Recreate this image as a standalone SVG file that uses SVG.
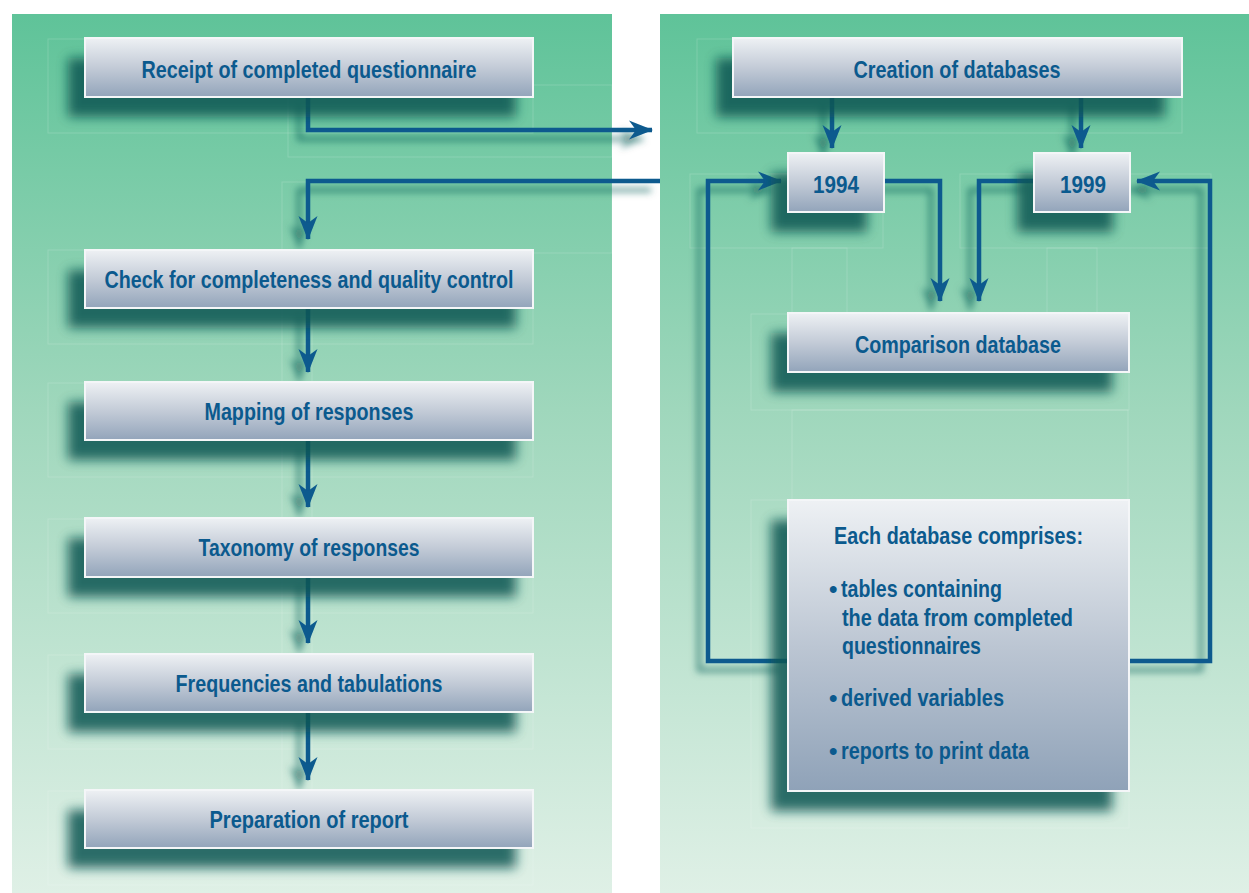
<svg xmlns="http://www.w3.org/2000/svg" width="1249" height="893" viewBox="0 0 1249 893">
  <defs>
    <linearGradient id="bg" x1="0" y1="0" x2="0" y2="1">
      <stop offset="0" stop-color="#5fc399"/>
      <stop offset="0.45" stop-color="#9fd7bc"/>
      <stop offset="1" stop-color="#dff0e6"/>
    </linearGradient>
    <linearGradient id="boxfill" x1="0" y1="0" x2="0" y2="1">
      <stop offset="0" stop-color="#eef1f4"/>
      <stop offset="0.5" stop-color="#c3cbd7"/>
      <stop offset="1" stop-color="#92a4ba"/>
    </linearGradient>
    <linearGradient id="bigfill" x1="0" y1="0" x2="0" y2="1">
      <stop offset="0" stop-color="#eef1f4"/>
      <stop offset="0.5" stop-color="#bcc6d3"/>
      <stop offset="1" stop-color="#8fa2b8"/>
    </linearGradient>
    <filter id="blur" x="-20%" y="-50%" width="140%" height="200%">
      <feGaussianBlur stdDeviation="6"/>
    </filter>
    <filter id="lineshadow" x="-20%" y="-20%" width="140%" height="140%">
      <feGaussianBlur in="SourceAlpha" stdDeviation="3.5"/>
      <feOffset dx="-9" dy="9" result="b"/>
      <feFlood flood-color="#0e5a55" flood-opacity="0.6"/>
      <feComposite in2="b" operator="in"/>
      <feMerge><feMergeNode/><feMergeNode in="SourceGraphic"/></feMerge>
    </filter>
    <marker id="arrow" viewBox="0 0 24 20" refX="23" refY="10" markerWidth="24" markerHeight="20" markerUnits="userSpaceOnUse" orient="auto">
      <path d="M0,0.5 L24,10 L0,19.5 L7,10 Z" fill="#0b5a8e"/>
    </marker>
  </defs>
  <style>
    .frame { fill: none; stroke: #ffffff; stroke-opacity: 0.16; stroke-width: 1; }
    .shadow { fill: #0d5652; opacity: 0.85; filter: url(#blur); }
    .box { fill: url(#boxfill); stroke: #f4f6f8; stroke-width: 2; }
    .big { fill: url(#bigfill); stroke: #f4f6f8; stroke-width: 2; }
    .label { font-family: "Liberation Sans", Arial, sans-serif; font-weight: bold; font-size: 24px; fill: #0b5a8e; text-anchor: middle; }
    .list { font-family: "Liberation Sans", Arial, sans-serif; font-weight: bold; font-size: 24px; fill: #0b5a8e; }
    .conn { fill: none; stroke: #0b5a8e; stroke-width: 4.5; }
  </style>

  <!-- background panels -->
  <rect width="1249" height="893" fill="#ffffff"/>
  <rect x="12" y="14" width="600" height="879" fill="url(#bg)"/>
  <rect x="660" y="14" width="589" height="879" fill="url(#bg)"/>

  <!-- faint layout frames -->
  <g id="frames">
    <rect class="frame" x="48" y="39" width="485" height="94"/>
    <rect class="frame" x="288" y="85" width="324" height="72"/>
    <rect class="frame" x="282" y="182" width="330" height="71"/>
    <rect class="frame" x="48" y="250" width="485" height="94"/>
    <rect class="frame" x="48" y="383" width="485" height="94"/>
    <rect class="frame" x="48" y="519" width="485" height="94"/>
    <rect class="frame" x="48" y="655" width="485" height="94"/>
    <rect class="frame" x="48" y="791" width="485" height="94"/>
    <rect class="frame" x="282" y="308" width="30" height="74"/>
    <rect class="frame" x="282" y="441" width="30" height="78"/>
    <rect class="frame" x="282" y="577" width="30" height="78"/>
    <rect class="frame" x="282" y="717" width="30" height="74"/>
    <rect class="frame" x="697" y="39" width="485" height="94"/>
    <rect class="frame" x="690" y="174" width="193" height="74"/>
    <rect class="frame" x="960" y="174" width="251" height="74"/>
    <rect class="frame" x="751" y="314" width="378" height="96"/>
    <rect class="frame" x="792" y="248" width="55" height="66"/>
    <rect class="frame" x="1047" y="248" width="50" height="66"/>
    <rect class="frame" x="792" y="410" width="336" height="90"/>
    <rect class="frame" x="751" y="500" width="378" height="328"/>
  </g>

  <!-- connectors -->
  <g id="connectors" filter="url(#lineshadow)">
    <polyline class="conn" points="308,97 308,130 652,130" marker-end="url(#arrow)"/>
    <polyline class="conn" points="660,181 308,181 308,239" marker-end="url(#arrow)"/>
    <line class="conn" x1="308" y1="308" x2="308" y2="372" marker-end="url(#arrow)"/>
    <line class="conn" x1="308" y1="441" x2="308" y2="507" marker-end="url(#arrow)"/>
    <line class="conn" x1="308" y1="577" x2="308" y2="643" marker-end="url(#arrow)"/>
    <line class="conn" x1="308" y1="713" x2="308" y2="780" marker-end="url(#arrow)"/>
    <line class="conn" x1="832" y1="97" x2="832" y2="148" marker-end="url(#arrow)"/>
    <line class="conn" x1="1081" y1="97" x2="1081" y2="148" marker-end="url(#arrow)"/>
    <polyline class="conn" points="884,181 940,181 940,301" marker-end="url(#arrow)"/>
    <polyline class="conn" points="1034,181 979,181 979,301" marker-end="url(#arrow)"/>
    <polyline class="conn" points="788,661 708,661 708,181 781,181" marker-end="url(#arrow)"/>
    <polyline class="conn" points="1129,661 1210,661 1210,181 1137,181" marker-end="url(#arrow)"/>
  </g>

  <!-- left column -->
  <g id="receipt">
    <rect class="shadow" x="68" y="58" width="448" height="59"/>
    <rect class="box" x="85" y="38" width="448" height="59"/>
    <text class="label" x="309" y="78" textLength="335" lengthAdjust="spacingAndGlyphs">Receipt of completed questionnaire</text>
  </g>
  <g id="check">
    <rect class="shadow" x="68" y="270" width="448" height="58"/>
    <rect class="box" x="85" y="250" width="448" height="58"/>
    <text class="label" x="309" y="288" textLength="409" lengthAdjust="spacingAndGlyphs">Check for completeness and quality control</text>
  </g>
  <g id="mapping">
    <rect class="shadow" x="68" y="402" width="448" height="58"/>
    <rect class="box" x="85" y="382" width="448" height="58"/>
    <text class="label" x="309" y="420" textLength="209" lengthAdjust="spacingAndGlyphs">Mapping of responses</text>
  </g>
  <g id="taxonomy">
    <rect class="shadow" x="68" y="538" width="448" height="59"/>
    <rect class="box" x="85" y="518" width="448" height="59"/>
    <text class="label" x="309" y="556" textLength="221" lengthAdjust="spacingAndGlyphs">Taxonomy of responses</text>
  </g>
  <g id="frequencies">
    <rect class="shadow" x="68" y="674" width="448" height="58"/>
    <rect class="box" x="85" y="654" width="448" height="58"/>
    <text class="label" x="309" y="692" textLength="267" lengthAdjust="spacingAndGlyphs">Frequencies and tabulations</text>
  </g>
  <g id="preparation">
    <rect class="shadow" x="68" y="810" width="448" height="58"/>
    <rect class="box" x="85" y="790" width="448" height="58"/>
    <text class="label" x="309" y="828" textLength="199" lengthAdjust="spacingAndGlyphs">Preparation of report</text>
  </g>

  <!-- right column -->
  <g id="creation">
    <rect class="shadow" x="716" y="58" width="449" height="59"/>
    <rect class="box" x="733" y="38" width="449" height="59"/>
    <text class="label" x="957" y="78" textLength="207" lengthAdjust="spacingAndGlyphs">Creation of databases</text>
  </g>
  <g id="y1994">
    <rect class="shadow" x="771" y="173" width="96" height="59"/>
    <rect class="box" x="788" y="153" width="96" height="59"/>
    <text class="label" x="836" y="193" textLength="46" lengthAdjust="spacingAndGlyphs">1994</text>
  </g>
  <g id="y1999">
    <rect class="shadow" x="1017" y="173" width="96" height="59"/>
    <rect class="box" x="1034" y="153" width="96" height="59"/>
    <text class="label" x="1083" y="193" textLength="46" lengthAdjust="spacingAndGlyphs">1999</text>
  </g>
  <g id="comparison">
    <rect class="shadow" x="771" y="333" width="341" height="59"/>
    <rect class="box" x="788" y="313" width="341" height="59"/>
    <text class="label" x="958" y="353" textLength="206" lengthAdjust="spacingAndGlyphs">Comparison database</text>
  </g>
  <g id="contents">
    <rect class="shadow" x="771" y="520" width="341" height="291"/>
    <rect class="big" x="788" y="500" width="341" height="291"/>
    <text class="list" x="834" y="544" textLength="249" lengthAdjust="spacingAndGlyphs">Each database comprises:</text>
    <text class="list" x="829" y="597">•</text>
    <text class="list" x="841" y="597" textLength="161" lengthAdjust="spacingAndGlyphs">tables containing</text>
    <text class="list" x="842" y="626" textLength="231" lengthAdjust="spacingAndGlyphs">the data from completed</text>
    <text class="list" x="842" y="654" textLength="139" lengthAdjust="spacingAndGlyphs">questionnaires</text>
    <text class="list" x="829" y="706">•</text>
    <text class="list" x="841" y="706" textLength="163" lengthAdjust="spacingAndGlyphs">derived variables</text>
    <text class="list" x="829" y="759">•</text>
    <text class="list" x="841" y="759" textLength="188" lengthAdjust="spacingAndGlyphs">reports to print data</text>
  </g>
</svg>
